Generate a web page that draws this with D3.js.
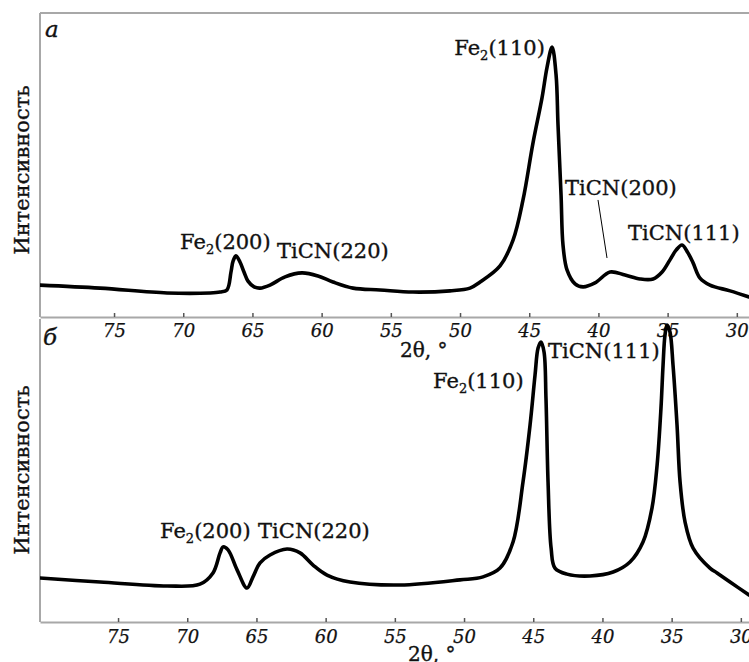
<!DOCTYPE html>
<html>
<head>
<meta charset="utf-8">
<script src="https://cdn.jsdelivr.net/npm/d3@7"></script>
<style>
  html, body { margin: 0; padding: 0; background: #fff; }
  svg { display: block; }
</style>
</head>
<body>
<svg id="chart" width="749" height="662"></svg>
<script>
// ---------- DATA ----------
const tickValues = [75, 70, 65, 60, 55, 50, 45, 40, 35, 30];
const panelLetters = ["a", "б"];
const yLabel = "Интенсивность";
const xLabel = "2θ, °";

// Panel a: 2θ (deg) and intensity (arb. units, 0..100 of panel height)
const topTheta = [80.35, 76.01, 71.17, 68.06, 67.34, 66.84, 66.55, 66.40, 66.19, 65.90, 65.61, 65.32, 64.88, 64.45,
  63.73, 62.64, 61.42, 60.26, 59.18, 57.73, 55.78, 53.40, 50.72, 49.28, 48.55, 47.11, 46.17, 45.45, 44.73, 44.08,
  43.71, 43.35, 43.06, 42.92, 42.70, 42.56, 42.27, 41.69, 41.11, 40.25, 39.16, 38.08, 36.99, 36.05, 35.40, 34.83,
  34.39, 33.96, 33.53, 33.16, 32.66, 31.94, 30.49, 29.12];
const topInt = [10.5, 9.5, 7.9, 7.9, 8.2, 8.9, 14.8, 18.4, 20.1, 18.1, 14.8, 11.8, 9.9, 9.5,
  10.5, 13.2, 14.5, 13.5, 11.5, 9.5, 8.9, 8.2, 8.6, 9.5, 11.5, 16.8, 25.3, 38.5, 57.2, 72.0,
  82.2, 88.8, 79.6, 63.2, 40.1, 23.7, 15.5, 10.9, 9.9, 11.2, 14.8, 13.8, 12.5, 12.5, 14.8, 18.8,
  22.0, 23.7, 21.1, 17.8, 12.8, 10.5, 8.6, 6.6];

// Panel б
const botTheta = [80.64, 76.30, 71.46, 69.08, 68.14, 67.63, 67.41, 67.05, 66.40, 65.68, 65.25, 64.74, 64.02, 62.79,
  61.85, 60.91, 59.90, 58.24, 54.62, 50.29, 48.63, 47.40, 46.46, 45.74, 45.23, 44.87, 44.65, 44.44, 44.22, 44.08,
  43.93, 43.71, 43.43, 42.56, 40.90, 39.23, 38.01, 37.07, 36.42, 36.05, 35.77, 35.62, 35.48, 35.33, 35.12, 34.90,
  34.61, 34.39, 34.03, 33.45, 32.23, 31.72, 30.78, 29.41];
const botInt = [14.5, 13.2, 11.9, 12.5, 16.2, 22.8, 24.8, 23.8, 17.2, 11.2, 14.9, 19.5, 22.1, 24.1,
  22.8, 18.8, 15.5, 13.2, 12.2, 13.9, 14.9, 17.8, 26.4, 46.2, 65.0, 81.5, 90.4, 92.4, 89.1, 73.9,
  46.2, 24.4, 17.8, 15.8, 15.2, 16.5, 19.8, 26.4, 37.6, 51.8, 70.6, 84.8, 94.7, 98.0, 95.7, 84.8,
  65.0, 46.2, 33.0, 24.4, 17.8, 16.2, 13.2, 8.9];

// Peak annotations: [main text, subscript, rest], anchor in data coords (2θ, intensity)
const topLabels = [
  { parts: ["Fe", "2", "(110)"], theta: 43.87, inten: 86.2, anchor: "end" },
  { parts: ["Fe", "2", "(200)"], theta: 70.23, inten: 22.4, anchor: "start" },
  { parts: ["TiCN(220)", "", ""], theta: 63.22, inten: 19.4, anchor: "start" },
  { parts: ["TiCN(200)", "", ""], theta: 42.41, inten: 40.1, anchor: "start" },
  { parts: ["TiCN(111)", "", ""], theta: 37.86, inten: 25.3, anchor: "start" }
];
const topLeader = [[40.03, 38.5], [39.38, 19.4]];
const botLabels = [
  { parts: ["Fe", "2", "(200)"], theta: 71.97, inten: 27.7, anchor: "start" },
  { parts: ["TiCN(220)", "", ""], theta: 64.88, inten: 27.7, anchor: "start" },
  { parts: ["Fe", "2", "(110)"], theta: 52.24, inten: 77.2, anchor: "start" },
  { parts: ["TiCN(111)", "", ""], theta: 43.93, inten: 87.1, anchor: "start" }
];

// ---------- LAYOUT ----------
const W = 749, H = 662;
const left = 40, right = 749;
const panels = [
  { top: 13, bottom: 317, xDom: [80.35, 29.12], theta: topTheta, inten: topInt, labels: topLabels, leader: topLeader,
    letter: panelLetters[0], letterPos: [45, 37], yLabelY: 170, xLabelPos: [400, 357], tickPad: 7 },
  { top: 319, bottom: 622, xDom: [80.64, 29.41], theta: botTheta, inten: botInt, labels: botLabels, leader: null,
    letter: panelLetters[1], letterPos: [43, 345], yLabelY: 470, xLabelPos: [408, 661], tickPad: 8 }
];

const svg = d3.select("#chart");
const serif = "'DejaVu Serif', 'Liberation Serif', serif";
const ink = "#111";

function styleText(sel, size) {
  return sel.attr("font-family", serif).attr("font-size", size).attr("fill", ink)
    .attr("stroke", ink).attr("stroke-width", 0.35);
}

panels.forEach((p, i) => {
  const x = d3.scaleLinear().domain(p.xDom).range([left, right]);
  const y = d3.scaleLinear().domain([0, 100]).range([p.bottom, p.top]);
  const g = svg.append("g");

  // frame: top border (first panel) and left border
  if (i === 0) {
    g.append("line").attr("x1", left).attr("x2", right).attr("y1", p.top).attr("y2", p.top)
      .attr("stroke", "#a8a8a8").attr("stroke-width", 2);
  }
  g.append("line").attr("x1", left).attr("x2", left).attr("y1", p.top).attr("y2", p.bottom)
    .attr("stroke", "#a8a8a8").attr("stroke-width", 2);

  // curve
  const clipId = "clip" + i;
  svg.append("clipPath").attr("id", clipId).append("rect")
    .attr("x", left).attr("y", p.top - 12).attr("width", right - left).attr("height", p.bottom - p.top + 12);
  const pts = p.theta.map((t, k) => [t, p.inten[k]]);
  const line = d3.line().x(d => x(d[0])).y(d => y(d[1])).curve(d3.curveCatmullRom.alpha(0.5));
  g.append("path").datum(pts).attr("d", line).attr("clip-path", `url(#${clipId})`)
    .attr("fill", "none").attr("stroke", "#000").attr("stroke-width", 3.6)
    .attr("stroke-linejoin", "round").attr("stroke-linecap", "round");

  // x axis
  const axis = d3.axisBottom(x).tickValues(tickValues).tickFormat(d3.format("d"))
    .tickSizeInner(-4).tickSizeOuter(0).tickPadding(p.tickPad);
  const ax = g.append("g").attr("transform", `translate(0,${p.bottom})`).call(axis);
  ax.select(".domain").attr("stroke", "#a8a8a8").attr("stroke-width", 2);
  ax.selectAll(".tick line").attr("stroke", "#555").attr("stroke-width", 1.5);
  styleText(ax.selectAll(".tick text"), 18).attr("font-style", "italic").attr("stroke-width", 0.25);

  // x label
  styleText(g.append("text"), 20).attr("x", p.xLabelPos[0]).attr("y", p.xLabelPos[1]).text(xLabel);

  // y label
  styleText(g.append("text"), 21).attr("transform", `translate(29,${p.yLabelY}) rotate(-90)`)
    .attr("text-anchor", "middle").text(yLabel);

  // panel letter
  styleText(g.append("text"), 23).attr("x", p.letterPos[0]).attr("y", p.letterPos[1])
    .attr("font-style", "italic").text(p.letter);

  // peak labels
  p.labels.forEach(l => {
    const t = styleText(g.append("text"), 21).attr("x", x(l.theta)).attr("y", y(l.inten))
      .attr("text-anchor", l.anchor);
    t.append("tspan").text(l.parts[0]);
    if (l.parts[1]) {
      t.append("tspan").attr("font-size", 13).attr("dy", 5).text(l.parts[1]);
      t.append("tspan").attr("dy", -5).text(l.parts[2]);
    }
  });

  if (p.leader) {
    g.append("line").attr("x1", x(p.leader[0][0])).attr("y1", y(p.leader[0][1]))
      .attr("x2", x(p.leader[1][0])).attr("y2", y(p.leader[1][1]))
      .attr("stroke", "#000").attr("stroke-width", 1);
  }
});
</script>
</body>
</html>
